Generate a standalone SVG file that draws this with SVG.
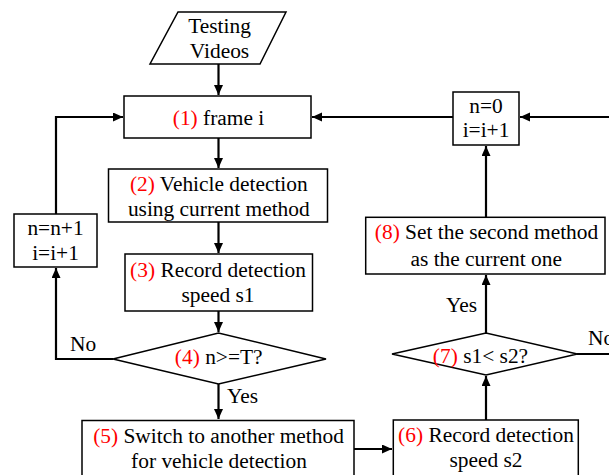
<svg xmlns="http://www.w3.org/2000/svg" width="609" height="475" viewBox="0 0 609 475">
<style>
.box{fill:#fff;stroke:#000;stroke-width:1.5}
.con{fill:none;stroke:#000;stroke-width:2.2}
text{font-family:"Liberation Serif","Times New Roman",serif;font-size:20px;fill:#000;text-anchor:middle}
.lbl{text-anchor:start}
.r{fill:#FF0000}
</style>
<defs>
<marker id="ah" markerUnits="userSpaceOnUse" markerWidth="11" markerHeight="10" refX="10" refY="4.5" orient="auto">
<path d="M0,0 L10,4.5 L0,9 z" fill="#000"/>
</marker>
</defs>
<rect width="609" height="475" fill="#fff"/>
<g id="connectors">
<path class="con" d="M218.5,64 V95" marker-end="url(#ah)"/>
<path class="con" d="M218.5,138 V168" marker-end="url(#ah)"/>
<path class="con" d="M218.5,222 V253" marker-end="url(#ah)"/>
<path class="con" d="M218.5,311 V332" marker-end="url(#ah)"/>
<path class="con" d="M218.5,384 V419" marker-end="url(#ah)"/>
<path class="con" d="M113,359 H56 V268" marker-end="url(#ah)"/>
<path class="con" d="M56,214 V117 H123" marker-end="url(#ah)"/>
<path class="con" d="M354,449 H392" marker-end="url(#ah)"/>
<path class="con" d="M486,420 V376" marker-end="url(#ah)"/>
<path class="con" d="M486,333 V275" marker-end="url(#ah)"/>
<path class="con" d="M486,217 V146" marker-end="url(#ah)"/>
<path class="con" d="M453,117 H312" marker-end="url(#ah)"/>
<path class="con" d="M577,354 H616 V117 H520" marker-end="url(#ah)"/>
<text class="lbl" x="227" y="403" transform="translate(227,403) scale(1.07,1) translate(-227,-403)">Yes</text>
<text class="lbl" x="70" y="351" transform="translate(70,351) scale(1.07,1) translate(-70,-351)">No</text>
<text class="lbl" x="446" y="312" transform="translate(446,312) scale(1.07,1) translate(-446,-312)">Yes</text>
<text class="lbl" x="588" y="345" transform="translate(588,345) scale(1.07,1) translate(-588,-345)">No</text>
</g>
<g id="n0">
<polygon class="box" points="178,12 286,12 260,64 150,64"/>
<text transform="translate(219.5,33) scale(1.07,1)">Testing</text>
<text transform="translate(219.5,58) scale(1.07,1)">Videos</text>
</g>
<g id="n1">
<rect class="box" x="124" y="96" width="187" height="42"/>
<text transform="translate(218.5,125) scale(1.07,1)"><tspan class="r">(1)</tspan> frame i</text>
</g>
<g id="n2">
<rect class="box" x="108.5" y="169" width="219" height="53"/>
<text transform="translate(218.8,190.5) scale(1.07,1)"><tspan class="r">(2)</tspan> Vehicle detection</text>
<text transform="translate(218.8,216) scale(1.07,1)">using current method</text>
</g>
<g id="n3">
<rect class="box" x="125" y="254" width="187.5" height="57"/>
<text transform="translate(218,276.5) scale(1.07,1)"><tspan class="r">(3)</tspan> Record detection</text>
<text transform="translate(218,301.5) scale(1.07,1)">speed s1</text>
</g>
<g id="n4">
<polygon class="box" points="113,359 218.5,333 326,359 218.5,384"/>
<text transform="translate(218.7,364) scale(1.07,1)"><tspan class="r">(4)</tspan> n&gt;=T?</text>
</g>
<g id="nA">
<rect class="box" x="14" y="214" width="83" height="53"/>
<text transform="translate(55.5,235) scale(1.07,1)">n=n+1</text>
<text transform="translate(55.5,260) scale(1.07,1)">i=i+1</text>
</g>
<g id="n5">
<rect class="box" x="82" y="420.5" width="272" height="60"/>
<text transform="translate(218.5,443) scale(1.07,1)"><tspan class="r">(5)</tspan> Switch to another method</text>
<text transform="translate(219,468) scale(1.07,1)">for vehicle detection</text>
</g>
<g id="n6">
<rect class="box" x="393.3" y="420" width="185" height="60"/>
<text transform="translate(486,441.7) scale(1.07,1)"><tspan class="r">(6)</tspan> Record detection</text>
<text transform="translate(486,466.7) scale(1.07,1)">speed s2</text>
</g>
<g id="n7">
<polygon class="box" points="392,354 486,333 577.3,354 486,375"/>
<text transform="translate(480.5,363) scale(1.07,1)"><tspan class="r">(7)</tspan> s1&lt; s2?</text>
</g>
<g id="n8">
<rect class="box" x="365.7" y="217.3" width="239.3" height="56.7"/>
<text transform="translate(486.5,239) scale(1.07,1)"><tspan class="r">(8)</tspan> Set the second method</text>
<text transform="translate(486.2,265.5) scale(1.07,1)">as the current one</text>
</g>
<g id="nB">
<rect class="box" x="453" y="92" width="66" height="53"/>
<text transform="translate(486,112.5) scale(1.07,1)">n=0</text>
<text transform="translate(486,137) scale(1.07,1)">i=i+1</text>
</g>
</svg>
